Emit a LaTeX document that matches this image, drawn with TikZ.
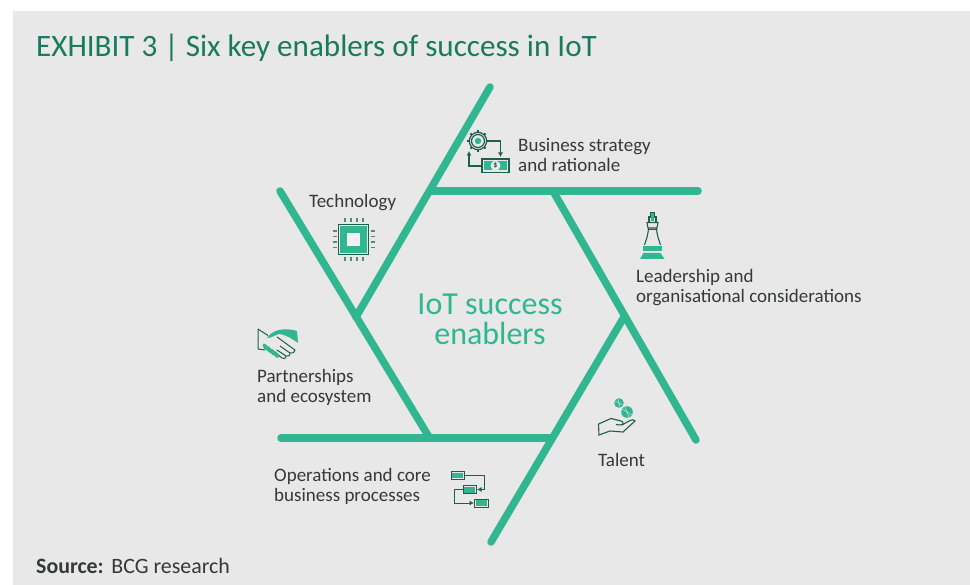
\documentclass[tikz,border=0pt]{standalone}
\usepackage{fontspec}
\setmainfont{Carlito}
\definecolor{bggray}{HTML}{E8E8E8}
\definecolor{teal1}{HTML}{30B690}
\definecolor{title}{HTML}{197A5C}
\definecolor{dark}{HTML}{1F5E48}
\definecolor{txt}{HTML}{333A38}
\usetikzlibrary{arrows.meta}
\tikzset{
  spoke/.style={draw=teal1,line width=7.5pt,line cap=round},
  lbl/.style={inner sep=0pt,anchor=west,align=left,text=txt,font=\fontsize{19}{20}\selectfont},
  ico/.style={draw=dark,line width=1.2pt,fill=none},
  arr/.style={draw=dark,line width=1.1pt,-{Latex[length=4.5pt,width=5pt]}},
}
\begin{document}
\begin{tikzpicture}[x=1pt,y=-1pt]
\useasboundingbox (0,0) rectangle (970,585);
\fill[white] (0,0) rectangle (970,585);
\fill[bggray] (13,11) rectangle (970,585);
% spokes
\coordinate (a1) at (490,87); \coordinate (a2) at (356,317);
\coordinate (b1) at (431,191); \coordinate (b2) at (698,191);
\coordinate (c1) at (553,191); \coordinate (c2) at (696,440);
\coordinate (d1) at (624,317); \coordinate (d2) at (491,542);
\coordinate (e1) at (281,438); \coordinate (e2) at (552,438);
\coordinate (f1) at (280,191); \coordinate (f2) at (429,437);
\draw[spoke] (a1)--(a2);
\draw[spoke] (b1)--(b2);
\draw[spoke] (c1)--(c2);
\draw[spoke] (d1)--(d2);
\draw[spoke] (e1)--(e2);
\draw[spoke] (f1)--(f2);
% text
\node[inner sep=0pt,anchor=west,text=title,font=\fontsize{31.1}{34}\selectfont] (ttl) at (36,48) {EXHIBIT 3 | Six key enablers of success in IoT};
\node[inner sep=0pt,align=center,text=teal1,font=\fontsize{32}{30}\selectfont] (ctr) at (490,319) {IoT success\\enablers};
\node[lbl] (l1) at (518,155) {Business strategy\\and rationale};
\node[lbl] (l2) at (309,203) {Technology};
\node[lbl] (l3) at (636,287.3) {Leadership and\\organisational considerations};
\node[lbl] (l4) at (257,387.3) {Partnerships\\and ecosystem};
\node[lbl] (l5) at (598,459.5) {Talent};
\node[lbl] (l6) at (274,486) {Operations and core\\business processes};
\node[inner sep=0pt,anchor=west,text=txt,font=\fontsize{21.9}{24}\selectfont] (src) at (36,566) {\textbf{Source:}\hspace{1pt} BCG research};
% business strategy icon
\draw[ico] (478,141) circle (6.5);
\foreach \a in {0,45,...,315}{\draw[dark,line width=2pt] (478,141)++(\a:8.5) -- ++(\a:2.2);}
\draw[ico] (478,141) circle (8.7);
\fill[teal1] (478,141) circle (3.2);
\draw[arr] (488,141) -- (500.5,141) -- (500.5,157);
\draw[arr] (482,166) -- (469,166) -- (469,151);
\draw[ico] (482,159) rectangle (509,172.5);
\fill[teal1] (484,161) rectangle (507,170.5);
\fill[bggray] (495.5,165.7) circle (5);
\node[inner sep=0pt,text=dark,font=\fontsize{8}{8}\selectfont\bfseries] (dol) at (495.5,165.7) {\$};
% technology icon
\draw[ico,line width=1.2pt] (338.5,224.5) rectangle (368.5,254.5);
\fill[teal1] (340,226) rectangle (367,253);
\fill[bggray!60!white] (347,233) rectangle (360,246);
\foreach \k in {0,1,2,3}{
  \draw[dark!70!bggray,line width=1.3pt] ({345+6*\k},218) -- ++(0,4.5);
  \draw[dark!70!bggray,line width=1.3pt] ({345+6*\k},257) -- ++(0,4.5);
  \draw[dark!70!bggray,line width=1.3pt] (332.5,{231+5.5*\k}) -- ++(4.5,0);
  \draw[dark!70!bggray,line width=1.3pt] (370.5,{231+5.5*\k}) -- ++(4.5,0);
}
% chess icon
\fill[teal1] (643,246.5) rectangle (662,251.5);
\fill[teal1] (643.5,253) -- (660.5,253) -- (664.5,259) -- (640,259) -- cycle;
\draw[ico,line width=1.1pt] (648.5,228) .. controls (648,236) and (646,240) .. (644.5,245);
\draw[ico,line width=1.1pt] (656.5,228) .. controls (657,236) and (659,240) .. (660.5,245);
\draw[ico,line width=1.1pt] (647,222.5) -- (658,222.5) -- (657,228) -- (648,228) -- cycle;
\draw[ico,line width=1pt] (649,229.5) -- (656,229.5);
\draw[ico,line width=1.1pt] (649,222) -- (649,217) -- (651,217) -- (651,213) -- (654,213) -- (654,217) -- (656,217) -- (656,222);
\fill[teal1] (651,213.5) rectangle (654,221.5);
% handshake icon
\fill[teal1] (267,338) .. controls (272,330) and (284,327) .. (297,331) -- (298,343) .. controls (292,339) and (287,335) .. (279,334) .. controls (275,335) and (272,338) .. (267,338) -- cycle;
\draw[ico,line width=1pt] (258,329) -- (268,335.5);
\draw[ico,line width=1pt] (258,329) -- (258,349) -- (265,350);
\draw[ico,line width=1pt] (277,337) -- (295,350) .. controls (294,353) and (292,354) .. (290,353) -- (280,346);
\draw[ico,line width=1pt] (290,353) .. controls (290,356) and (288,357) .. (286,356) -- (277,350);
\draw[ico,line width=1pt] (286,356) .. controls (286,359) and (283,359) .. (282,358) -- (277,354);
\foreach \p in {(265.5,347),(269,349.5),(272.5,352),(276,354.5)}{\fill[teal1,rotate around={35:\p}] \p ellipse (2.1 and 4);}
% talent icon
\fill[teal1] (619,403) circle (4.8);
\draw[bggray,line width=0.4pt] (615,401) -- (623,405) (618,399) -- (620,407);
\fill[teal1] (627,412) circle (5.8);
\draw[bggray,line width=0.4pt] (622,409) -- (632,415) (625,407) -- (629,417);
\draw[ico,line width=1.1pt] (598.5,424) -- (611,418.5) -- (621,421) .. controls (624,422) and (624,425) .. (620,425) -- (616,424.5);
\draw[ico,line width=1.1pt] (598.5,424) -- (599,435) -- (610,431) -- (623,432) -- (635,421) .. controls (634,419.5) and (632,419.5) .. (630,420.5) -- (622,425);
% process icon
\draw[ico,line width=1pt] (451,471.5) rectangle (464,479);
\fill[teal1] (452,472.5) rectangle (463,478);
\draw[ico,line width=1pt] (463,485.5) rectangle (476,493.5);
\fill[teal1] (464,486.5) rectangle (475,492.5);
\draw[ico,line width=1pt] (474.5,499) rectangle (488,507);
\fill[teal1] (475.5,500) rectangle (487,506);
\draw[arr,line width=0.95pt] (464,475) -- (484.5,475) -- (484.5,489.5) -- (477,489.5);
\draw[arr,line width=0.95pt] (463,489.5) -- (454,489.5) -- (454,503) -- (474,503);
\end{tikzpicture}
\end{document}
